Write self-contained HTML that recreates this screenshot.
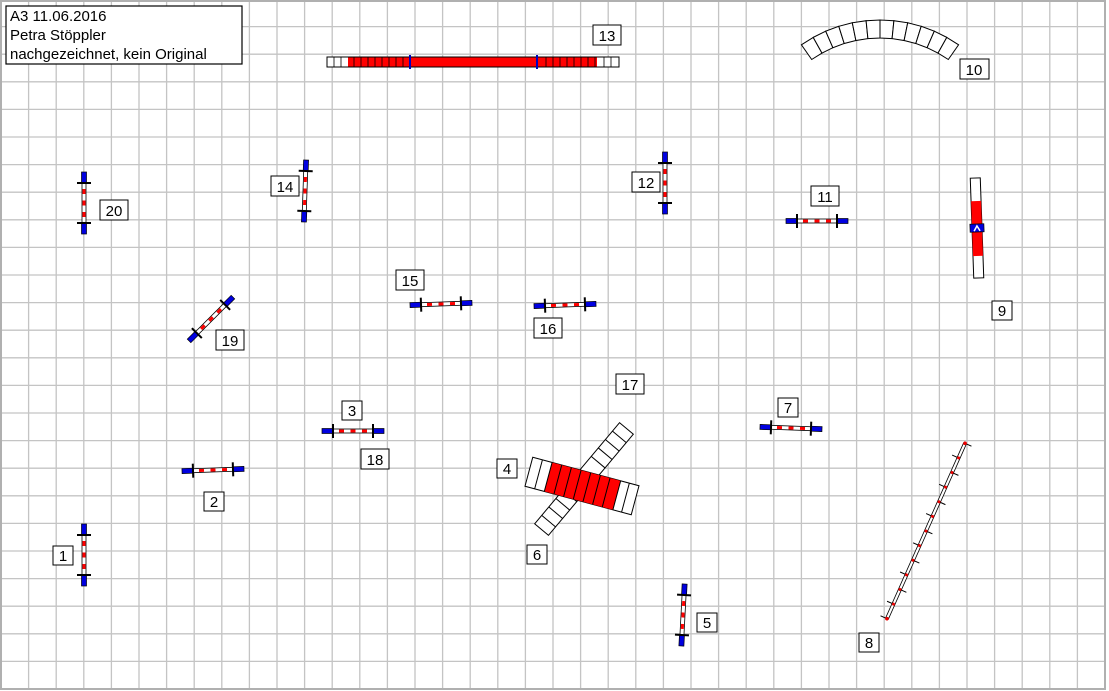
<!DOCTYPE html>
<html><head><meta charset="utf-8"><style>
html,body{margin:0;padding:0;background:#fff}
svg{display:block}
text{font-family:"Liberation Sans",Arial,sans-serif}
</style></head><body>
<svg width="1109" height="691" viewBox="0 0 1109 691" xmlns="http://www.w3.org/2000/svg">
<defs>
<g id="j">
<rect x="-31" y="-2.5" width="11" height="5" fill="#0000e0" stroke="#000" stroke-width="0.7"/>
<rect x="20" y="-2.5" width="11" height="5" fill="#0000e0" stroke="#000" stroke-width="0.7"/>
<rect x="-20" y="-2" width="40" height="4" fill="#fff" stroke="#000" stroke-width="0.8"/>
<rect x="-14" y="-1.5" width="5" height="3" fill="#f00"/>
<rect x="-2.5" y="-1.5" width="5" height="3" fill="#f00"/>
<rect x="9" y="-1.5" width="5" height="3" fill="#f00"/>
<path d="M-20 -7V7M20 -7V7" stroke="#000" stroke-width="2"/>
</g>
</defs>
<g id="grid" stroke="#c4c4c4" stroke-width="1.3"></g>
<rect x="1" y="1" width="1104" height="688" fill="none" stroke="#b0b0b0" stroke-width="2"/>

<!-- info box -->
<rect x="6" y="6" width="236" height="58" fill="#fff" stroke="#000" stroke-width="1.2"/>
<text x="10" y="21" font-size="15">A3 11.06.2016</text>
<text x="10" y="40" font-size="15">Petra Stöppler</text>
<text x="10" y="59" font-size="15">nachgezeichnet, kein Original</text>

<!-- tunnel 13 -->
<rect x="327" y="57" width="292" height="10" fill="#fff" stroke="#000"/>
<rect x="348" y="57.5" width="249" height="9" fill="#f00"/>
<path d="M334 57V67M341 57V67M354 57V67M361 57V67M368 57V67M375 57V67M382 57V67M389 57V67M396 57V67M403 57V67M546 57V67M553 57V67M560 57V67M567 57V67M574 57V67M581 57V67M588 57V67M595 57V67M604 57V67M611 57V67" stroke="#000" stroke-width="0.8"/>
<path d="M410 55V69M537 55V69" stroke="#0000c0" stroke-width="2"/>

<!-- tunnel 10 arc -->
<g id="arc" fill="#fff" stroke="#000" stroke-width="1" transform="translate(880,157)"></g>

<!-- jumps -->
<use href="#j" transform="translate(84,203) rotate(90)"/>
<use href="#j" transform="translate(305,191) rotate(92)"/>
<use href="#j" transform="translate(665,183) rotate(90)"/>
<use href="#j" transform="translate(817,221)"/>
<use href="#j" transform="translate(441,304) rotate(-2)"/>
<use href="#j" transform="translate(565,305) rotate(-2)"/>
<use href="#j" transform="translate(211,319) rotate(-45)"/>
<use href="#j" transform="translate(353,431)"/>
<use href="#j" transform="translate(213,470) rotate(-2)"/>
<use href="#j" transform="translate(791,428) rotate(2)"/>
<use href="#j" transform="translate(84,555) rotate(90)"/>
<use href="#j" transform="translate(683,615) rotate(93)"/>

<!-- 9 seesaw -->
<g transform="translate(977,228) rotate(-2)">
<rect x="-5" y="-50" width="10" height="100" fill="#fff" stroke="#000"/>
<rect x="-5" y="-27" width="10" height="55" fill="#f00"/>
<rect x="-7" y="-4" width="14" height="8" fill="#0000e0" stroke="#000" stroke-width="0.7"/>
<path d="M-3 3L0 -2L3 3" stroke="#fff" stroke-width="1.5" fill="none"/>
</g>

<!-- 6 tunnel diagonal -->
<g transform="translate(584,479) rotate(-50)" fill="#fff" stroke="#000">
<rect x="-66" y="-9" width="132" height="18"/>
<path d="M-55 -9V9M-44 -9V9M-33 -9V9M-22 -9V9M22 -9V9M33 -9V9M44 -9V9M55 -9V9" fill="none"/>
</g>
<!-- 4 -->
<g transform="translate(582,486) rotate(15)">
<rect x="-55" y="-15" width="110" height="30" fill="#fff" stroke="#000"/>
<rect x="-35" y="-15" width="71" height="30" fill="#f00"/>
<path d="M-45 -15V15M-35 -15V15M-25 -15V15M-15 -15V15M-5 -15V15M5 -15V15M15 -15V15M25 -15V15M36 -15V15M45 -15V15" stroke="#000" fill="none"/>
</g>

<!-- 8 -->
<g transform="translate(926,531) rotate(24)">
<rect x="-1.5" y="-96" width="3" height="192" fill="#fff" stroke="#000" stroke-width="0.8"/>
<g stroke="#000" stroke-width="1">
<path d="M0 -96h7M0 -80h-7M0 -64h7M0 -48h-7M0 -32h7M0 -16h-7M0 0h7M0 16h-7M0 32h7M0 48h-7M0 64h7M0 80h-7M0 96h-7"/>
</g>
<g fill="#e00">
<circle cx="0" cy="-96" r="1.8"/><circle cx="0" cy="-80" r="1.5"/><circle cx="0" cy="-64" r="1.5"/><circle cx="0" cy="-48" r="1.5"/><circle cx="0" cy="-32" r="1.5"/><circle cx="0" cy="-16" r="1.5"/><circle cx="0" cy="0" r="1.5"/><circle cx="0" cy="16" r="1.5"/><circle cx="0" cy="32" r="1.5"/><circle cx="0" cy="48" r="1.5"/><circle cx="0" cy="64" r="1.5"/><circle cx="0" cy="80" r="1.5"/><circle cx="0" cy="96" r="1.8"/>
</g>
</g>

<!-- labels -->
<g font-size="15" text-anchor="middle">
<g fill="#fff" stroke="#000" stroke-width="1">
<rect x="593" y="25" width="28" height="20"/>
<rect x="960" y="59" width="29" height="20"/>
<rect x="100" y="200" width="28" height="20"/>
<rect x="271" y="176" width="28" height="20"/>
<rect x="632" y="172" width="28" height="20"/>
<rect x="811" y="186" width="28" height="20"/>
<rect x="992" y="301" width="20" height="19"/>
<rect x="396" y="270" width="28" height="20"/>
<rect x="534" y="318" width="28" height="20"/>
<rect x="216" y="330" width="28" height="20"/>
<rect x="616" y="374" width="28" height="20"/>
<rect x="342" y="401" width="20" height="19"/>
<rect x="778" y="398" width="20" height="19"/>
<rect x="361" y="449" width="28" height="20"/>
<rect x="497" y="459" width="20" height="19"/>
<rect x="204" y="492" width="20" height="19"/>
<rect x="527" y="545" width="20" height="19"/>
<rect x="53" y="546" width="20" height="19"/>
<rect x="697" y="613" width="20" height="19"/>
<rect x="859" y="633" width="20" height="19"/>
</g>
<text x="607" y="41">13</text>
<text x="974" y="75">10</text>
<text x="114" y="216">20</text>
<text x="285" y="192">14</text>
<text x="646" y="188">12</text>
<text x="825" y="202">11</text>
<text x="1002" y="316">9</text>
<text x="410" y="286">15</text>
<text x="548" y="334">16</text>
<text x="230" y="346">19</text>
<text x="630" y="390">17</text>
<text x="352" y="416">3</text>
<text x="788" y="413">7</text>
<text x="375" y="465">18</text>
<text x="507" y="474">4</text>
<text x="214" y="507">2</text>
<text x="537" y="560">6</text>
<text x="63" y="561">1</text>
<text x="707" y="628">5</text>
<text x="869" y="648">8</text>
</g>
</svg>
<script>
(function(){
var ns="http://www.w3.org/2000/svg";
var gr=document.getElementById("grid"),d="";
for(var i=1;i<40;i++){var x=(1+27.6*i).toFixed(1);d+="M"+x+" 1V689";}
for(var k=1;k<25;k++){var y=(-1+27.6*k).toFixed(1);d+="M1 "+y+"H1105";}
var p=document.createElementNS(ns,"path");p.setAttribute("d",d);gr.appendChild(p);
var g=document.getElementById("arc");
var R1=119,R2=137,n=12,a0=-35,a1=35;
function pt(r,a){return (r*Math.sin(a)).toFixed(1)+","+(-r*Math.cos(a)).toFixed(1);}
for(var i=0;i<n;i++){
 var s=(a0+(a1-a0)*i/n)*Math.PI/180,e=(a0+(a1-a0)*(i+1)/n)*Math.PI/180;
 var el=document.createElementNS(ns,"path");
 el.setAttribute("d","M"+pt(R1,s)+"L"+pt(R2,s)+"L"+pt(R2,e)+"L"+pt(R1,e)+"Z");
 g.appendChild(el);
}
})();
</script>
</body></html>
